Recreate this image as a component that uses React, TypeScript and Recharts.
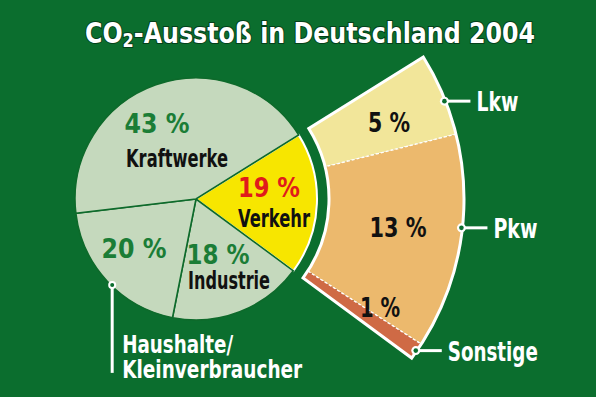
import React from 'react';
import { PieChart, Pie, Cell } from 'recharts';

// ---- data ----
const TITLE_MAIN = 'CO';
const TITLE_SUB = '2';
const TITLE_REST = '-Ausstoß in Deutschland 2004';

const SECTORS = ['Verkehr', 'Industrie', 'Haushalte/Kleinverbraucher', 'Kraftwerke'];
const SECTOR_SHARES = [19, 18, 20, 43];

const TRANSPORT = ['Lkw', 'Pkw', 'Sonstige'];
const TRANSPORT_SHARES = [5, 13, 1];

// ---- styles / layout ----
const W = 596;
const H = 397;
const CX = 196;
const CY = 199;
const R_MAIN = 121;
const R_RING_IN = 133;
const R_RING_OUT = 268;
const START = 32;

const BG = '#0b6e2e';
const PIE_GREEN = '#c5d9bd';
const PIE_LINE = '#0e6a2b';
const YELLOW = '#f7e600';
const TEXT_GREEN = '#1b7d36';
const TEXT_RED = '#e01b1b';
const FONT = "'DejaVu Sans Condensed', 'Liberation Sans Narrow', 'DejaVu Sans', sans-serif";

const SECTOR_FILLS: Record<string, string> = {
  Verkehr: YELLOW,
  Industrie: PIE_GREEN,
  'Haushalte/Kleinverbraucher': PIE_GREEN,
  Kraftwerke: PIE_GREEN,
};
const TRANSPORT_FILLS: Record<string, string> = {
  Lkw: '#f2e69a',
  Pkw: '#ecb96d',
  Sonstige: '#cf6a45',
};

type TextCfg = { dx: number; dy: number; w: number; size: number; color: string; text: string };

// positions of texts relative to the pie centre
const MAIN_TEXT: Record<string, TextCfg[]> = {
  Kraftwerke: [
    { dx: -39, dy: -66, w: 65, size: 27, color: TEXT_GREEN, text: '%P' },
    { dx: -19, dy: -32, w: 102, size: 25, color: '#111', text: 'Kraftwerke' },
  ],
  Verkehr: [
    { dx: 73, dy: -2, w: 62, size: 27, color: TEXT_RED, text: '%P' },
    { dx: 78, dy: 28, w: 72, size: 25, color: '#111', text: 'Verkehr' },
  ],
  'Haushalte/Kleinverbraucher': [
    { dx: -62, dy: 59, w: 65, size: 27, color: TEXT_GREEN, text: '%P' },
  ],
  Industrie: [
    { dx: 22, dy: 65, w: 63, size: 27, color: TEXT_GREEN, text: '%P' },
    { dx: 33, dy: 90, w: 82, size: 24, color: '#111', text: 'Industrie' },
  ],
};

const RING_TEXT: Record<string, { dx: number; dy: number; w: number; dotAngle: number; labelW: number }> = {
  Lkw: { dx: 193, dy: -67, w: 42, dotAngle: 21.5, labelW: 42 },
  Pkw: { dx: 202, dy: 38, w: 57, dotAngle: -6.2, labelW: 44 },
  Sonstige: { dx: 184, dy: 118, w: 40, dotAngle: -34.6, labelW: 90 },
};

const RAD = Math.PI / 180;

const sectorData = SECTORS.map((name, i) => ({ name, value: SECTOR_SHARES[i] }));
const transportData = TRANSPORT.map((name, i) => ({ name, value: TRANSPORT_SHARES[i] }));
const transportTotal = TRANSPORT_SHARES.reduce((a, b) => a + b, 0);
const verkehrShare = SECTOR_SHARES[0];
const ringEnd = START - (verkehrShare / 100) * 360;
const outlineData = [{ name: 'Verkehr', value: transportTotal }];

const T = (props: any) => (
  <text
    x={props.x}
    y={props.y}
    textAnchor={props.anchor || 'middle'}
    fontFamily={FONT}
    fontWeight="bold"
    fontSize={props.size}
    fill={props.color}
    textLength={props.w}
    lengthAdjust="spacingAndGlyphs"
  >
    {props.children}
  </text>
);

const mainLabel = (p: any) => {
  const name = p.name ?? p.payload?.name;
  const value = p.value ?? p.payload?.value;
  const cx = Number(p.cx);
  const cy = Number(p.cy);
  const cfgs = MAIN_TEXT[name] || [];
  const parts = cfgs.map((c, i) => (
    <T key={i} x={cx + c.dx} y={cy + c.dy} w={c.w} size={c.size} color={c.color}>
      {c.text === '%P' ? `${value} %` : c.text}
    </T>
  ));
  if (name === 'Haushalte/Kleinverbraucher') {
    const a = -134.3 * RAD;
    const r = Number(p.outerRadius) - 1;
    const x = cx + r * Math.cos(a);
    const y = cy - r * Math.sin(a);
    const [l1, l2] = ['Haushalte/', 'Kleinverbraucher'];
    parts.push(
      <g key="hh">
        <line x1={x} y1={y} x2={x} y2={y + 88} stroke="#fff" strokeWidth={3} />
        <circle cx={x} cy={y} r={4} fill="#fff" />
        <circle cx={x} cy={y} r={2} fill={BG} />
        <T x={x + 10} y={y + 68} w={111} size={25} color="#fff" anchor="start">{l1}</T>
        <T x={x + 10} y={y + 93} w={180} size={25} color="#fff" anchor="start">{l2}</T>
      </g>
    );
  }
  return <g>{parts}</g>;
};

const ringLabel = (p: any) => {
  const name = p.name ?? p.payload?.name;
  const value = p.value ?? p.payload?.value;
  const cx = Number(p.cx);
  const cy = Number(p.cy);
  const c = RING_TEXT[name];
  if (!c) return null;
  const a = c.dotAngle * RAD;
  const r = Number(p.outerRadius) - 1;
  const x = cx + r * Math.cos(a);
  const y = cy - r * Math.sin(a);
  return (
    <g>
      <T x={cx + c.dx} y={cy + c.dy} w={c.w} size={26} color="#111">{`${value} %`}</T>
      <line x1={x} y1={y} x2={x + 26} y2={y} stroke="#fff" strokeWidth={3} />
      <circle cx={x} cy={y} r={4.5} fill="#fff" />
      <circle cx={x} cy={y} r={2.3} fill={BG} />
      <T x={x + 32} y={y + 10} w={c.labelW} size={27} color="#fff" anchor="start">{name}</T>
    </g>
  );
};

export default function App() {
  return (
    <div style={{ position: 'absolute', left: 0, top: 0, width: W, height: H, background: BG, overflow: 'hidden' }}>
      <PieChart width={W} height={H} margin={{ top: 0, right: 0, bottom: 0, left: 0 }}>
        <Pie
          data={sectorData}
          dataKey="value"
          nameKey="name"
          cx={CX}
          cy={CY}
          innerRadius={0}
          outerRadius={R_MAIN}
          startAngle={START}
          endAngle={START - 360}
          isAnimationActive={false}
          labelLine={false}
          label={mainLabel}
        >
          {sectorData.map((d) => (
            <Cell
              key={d.name}
              fill={SECTOR_FILLS[d.name]}
              stroke={d.name === 'Verkehr' ? '#ffffff' : PIE_LINE}
              strokeWidth={d.name === 'Verkehr' ? 2 : 1.6}
            />
          ))}
        </Pie>
        <Pie
          data={transportData}
          dataKey="value"
          nameKey="name"
          cx={CX}
          cy={CY}
          innerRadius={R_RING_IN}
          outerRadius={R_RING_OUT}
          startAngle={START}
          endAngle={ringEnd}
          isAnimationActive={false}
          labelLine={false}
          label={false}
        >
          {transportData.map((d) => (
            <Cell key={d.name} fill={TRANSPORT_FILLS[d.name]} stroke="#ffffff" strokeWidth={1.3} strokeDasharray="3 2" />
          ))}
        </Pie>
        <Pie
          data={outlineData}
          dataKey="value"
          cx={CX}
          cy={CY}
          innerRadius={R_RING_IN}
          outerRadius={R_RING_OUT}
          startAngle={START}
          endAngle={ringEnd}
          isAnimationActive={false}
          labelLine={false}
          label={false}
        >
          <Cell fill="none" stroke="#ffffff" strokeWidth={3} />
        </Pie>
        <Pie
          data={transportData}
          dataKey="value"
          nameKey="name"
          cx={CX}
          cy={CY}
          innerRadius={R_RING_IN}
          outerRadius={R_RING_OUT}
          startAngle={START}
          endAngle={ringEnd}
          isAnimationActive={false}
          labelLine={false}
          label={ringLabel}
        >
          {transportData.map((d) => (
            <Cell key={d.name} fill="none" stroke="none" />
          ))}
        </Pie>
      </PieChart>
      <svg width={W} height={60} style={{ position: 'absolute', left: 0, top: 0 }}>
        <text
          x={85}
          y={43}
          fontFamily={FONT}
          fontWeight="bold"
          fontSize={28}
          fill="#ffffff"
          textLength={450}
          lengthAdjust="spacingAndGlyphs"
          style={{ paintOrder: 'stroke' }}
          stroke="#04401a"
          strokeWidth={2}
        >
          {TITLE_MAIN}
          <tspan fontSize={19} dy={4}>{TITLE_SUB}</tspan>
          <tspan dy={-4}>{TITLE_REST}</tspan>
        </text>
      </svg>
    </div>
  );
}
